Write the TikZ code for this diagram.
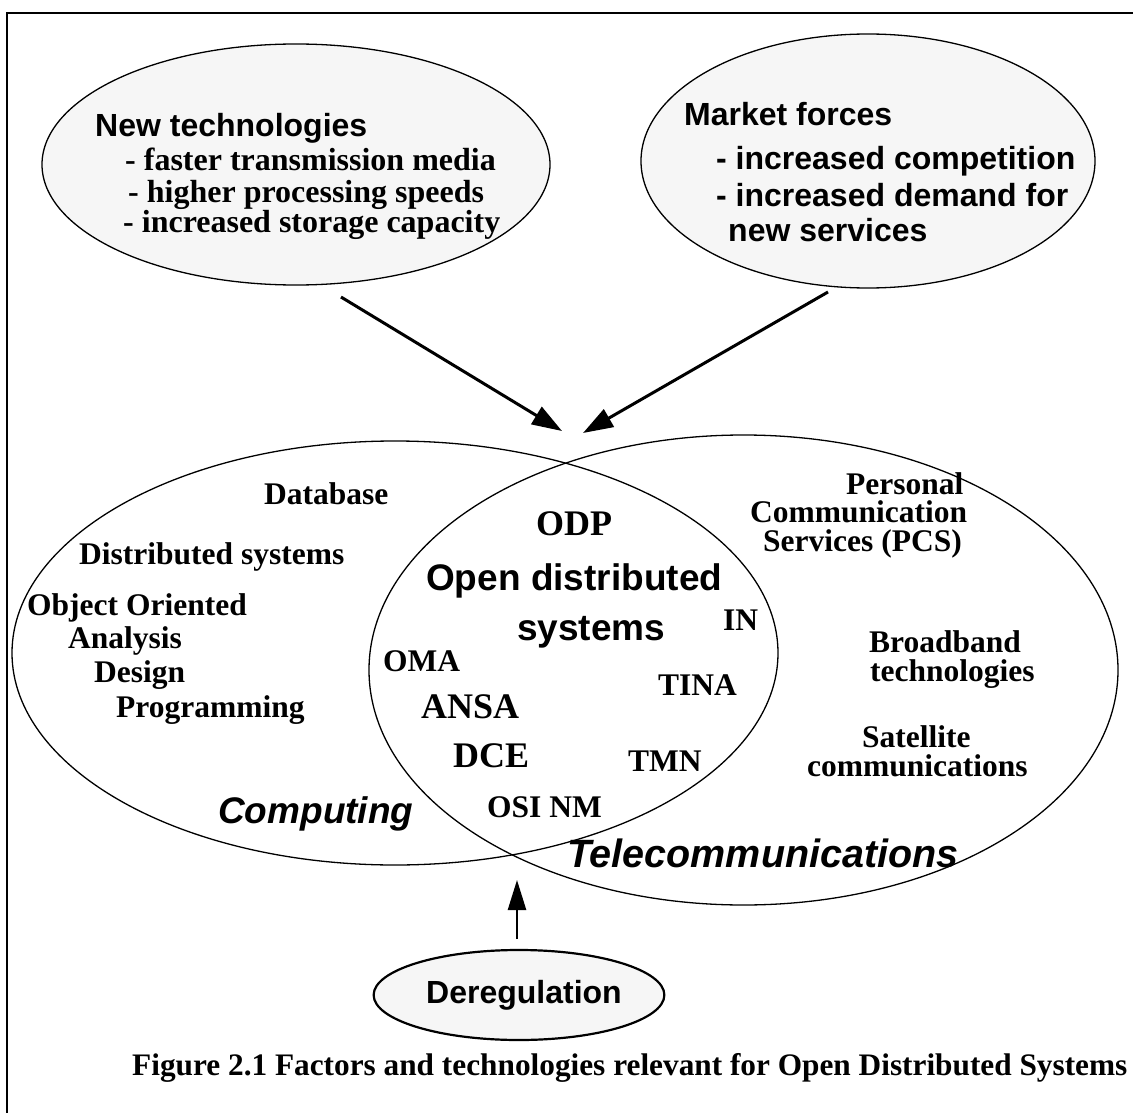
\documentclass[tikz,border=0pt]{standalone}
\usepackage{fontspec}
\setmainfont{Liberation Serif}
\newfontfamily\hv{Liberation Sans}
\usetikzlibrary{arrows.meta,shapes.geometric}

\tikzset{
  bubble/.style={draw, ellipse, fill=gray!7, line width=1.3pt, inner sep=0pt},
  area/.style={draw, ellipse, line width=1.3pt, inner sep=0pt},
  tx/.style={anchor=base west, inner sep=0pt, font=\bfseries\fontsize{31.5}{31.5}\selectfont},
  txbig/.style={anchor=base west, inner sep=0pt, font=\bfseries\fontsize{36}{36}\selectfont},
  sans/.style={anchor=base west, inner sep=0pt, font=\hv\bfseries\fontsize{32}{32}\selectfont},
  sansbig/.style={anchor=base west, inner sep=0pt, font=\hv\bfseries\fontsize{37}{37}\selectfont},
  field/.style={anchor=base west, inner sep=0pt, font=\hv\bfseries\itshape\fontsize{#1}{#1}\selectfont},
  push/.style={line width=3pt, -{Triangle[length=30pt,width=20pt]}},
}

\begin{document}
\begin{tikzpicture}[x=1pt, y=-1pt]
\useasboundingbox (0,0) rectangle (1133,1113);

% frame
\draw[line width=1.7pt] (7,1113) -- (7,12.7) -- (1133,12.7);

% driving factors
\node[bubble, minimum width=508pt, minimum height=241pt] (newtech) at (296,164.5) {};
\node[bubble, minimum width=454pt, minimum height=254pt] (market) at (868,161) {};

\node[sans] (nt0) at (95,137) {New technologies};
\node[tx, font=\bfseries\fontsize{32}{32}\selectfont] (nt1) at (125,171) {- faster transmission media};
\node[tx, font=\bfseries\fontsize{32}{32}\selectfont] (nt2) at (128,202) {- higher processing speeds};
\node[tx, font=\bfseries\fontsize{32}{32}\selectfont] (nt3) at (123,232) {- increased storage capacity};

\node[sans] (mf0) at (684,126) {Market forces};
\node[sans] (mf1) at (716,170) {- increased competition};
\node[sans] (mf2) at (716,206) {- increased demand for};
\node[sans] (mf3) at (728,241) {new services};

% overlapping fields
\node[area, minimum width=766pt, minimum height=424pt] (computing) at (395,653) {};
\node[area, minimum width=749pt, minimum height=470pt] (telecom) at (743.5,670) {};

% deregulation
\node[bubble, line width=2.2pt, minimum width=254pt, minimum height=90pt,
      font=\hv\bfseries\fontsize{32}{32}\selectfont] (dereg) at (519,995) {\hspace*{10pt}Deregulation};

% arrows into the overlap
\coordinate (ntFoot) at (341,297);
\coordinate (mfFoot) at (828,292);
\coordinate (meetL) at (562,431);
\coordinate (meetR) at (583,433);
\coordinate (drFoot) at (517,939);
\coordinate (drTip) at (517,880);
\draw[push] (ntFoot) -- (meetL);
\draw[push] (mfFoot) -- (meetR);
\draw[push, line width=2.5pt, -{Triangle[length=30pt,width=18pt]}] (drFoot) -- (drTip);

% computing side
\node[tx] (db) at (264,504) {Database};
\node[tx] (ds) at (79,564) {Distributed systems};
\node[tx] (oo) at (27,615) {Object Oriented};
\node[tx] (an) at (68,648) {Analysis};
\node[tx] (de) at (94,682) {Design};
\node[tx] (pr) at (116,717) {Programming};
\node[field=37] (comp) at (218,823) {Computing};

% overlap
\node[txbig] (odp) at (536,535) {ODP};
\node[sansbig] (ods1) at (426,590) {Open distributed};
\node[sansbig] (ods2) at (517,640) {systems};
\node[tx] (in) at (723,630) {IN};
\node[tx] (oma) at (383,671) {OMA};
\node[tx] (tina) at (658,695) {TINA};
\node[txbig] (ansa) at (421,718) {ANSA};
\node[txbig] (dce) at (453,767) {DCE};
\node[tx] (tmn) at (628,771) {TMN};
\node[tx] (osi) at (487,817) {OSI NM};

% telecommunications side
\node[tx] (pcs1) at (846,494) {Personal};
\node[tx] (pcs2) at (750,522) {Communication};
\node[tx] (pcs3) at (763,551) {Services (PCS)};
\node[tx] (bb1) at (869,652) {Broadband};
\node[tx] (bb2) at (870,681) {technologies};
\node[tx] (sat1) at (862,747) {Satellite};
\node[tx] (sat2) at (807,776) {communications};
\node[field=39.5] (tel) at (567,867) {Telecommunications};

% caption
\node[tx, font=\bfseries\fontsize{31.3}{31.3}\selectfont] (cap) at (132,1075)
  {Figure 2.1 Factors and technologies relevant for Open Distributed Systems};
\end{tikzpicture}
\end{document}
